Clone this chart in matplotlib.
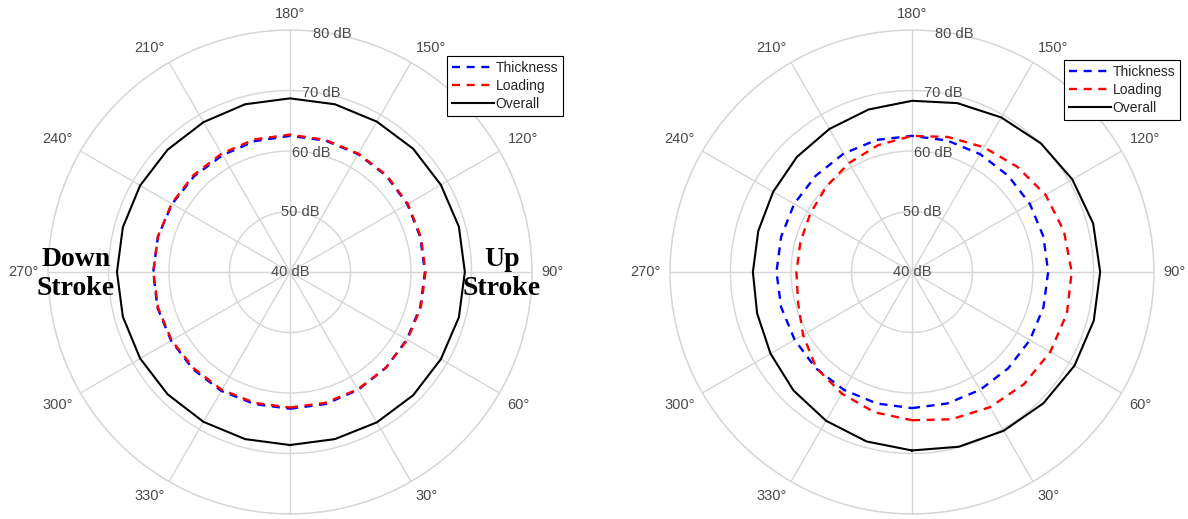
import numpy as np
import matplotlib
matplotlib.use("Agg")
import matplotlib.pyplot as plt

plt.rcParams["font.family"] = ["Liberation Sans", "DejaVu Sans"]

# azimuth samples (deg), 0 at the bottom, counter-clockwise
theta_deg = [0, 15, 30, 45, 60, 75, 90, 105, 120, 135, 150, 165,
             180, 195, 210, 225, 240, 255, 270, 285, 300, 315, 330, 345]

# left panel, SPL in dB
left_thickness = [62.6, 62.6, 62.5, 62.4, 62.3, 62.3, 62.3, 62.3, 62.4, 62.5, 62.5, 62.5,
                  62.5, 62.4, 62.3, 62.4, 62.5, 62.6, 62.6, 62.7, 62.7, 62.7, 62.7, 62.6]
left_loading = [62.4, 62.4, 62.4, 62.4, 62.4, 62.4, 62.4, 62.4, 62.5, 62.6, 62.6, 62.6,
                62.7, 62.7, 62.6, 62.6, 62.6, 62.6, 62.6, 62.6, 62.6, 62.5, 62.5, 62.4]
left_overall = [68.6, 68.6, 68.7, 68.8, 68.8, 68.9, 68.9, 68.9, 68.8, 68.8, 68.7, 68.7,
                68.7, 68.7, 68.6, 68.6, 68.6, 68.6, 68.6, 68.6, 68.6, 68.6, 68.6, 68.6]

# right panel, SPL in dB
right_thickness = [62.5, 62.5, 62.5, 62.5, 62.5, 62.5, 62.5, 62.5, 62.5, 62.5, 62.5, 62.5,
                   62.5, 62.6, 62.6, 62.5, 62.5, 62.4, 62.4, 62.4, 62.4, 62.5, 62.5, 62.5]
right_loading = [64.5, 65.2, 65.8, 66.2, 66.4, 66.5, 66.4, 66.0, 65.5, 64.6, 63.8, 63.1,
                 62.5, 61.7, 60.8, 60.0, 59.4, 59.1, 59.1, 59.5, 60.8, 62.4, 63.2, 64.0]
right_overall = [69.5, 69.9, 70.3, 70.7, 71.0, 71.1, 71.1, 71.0, 70.6, 70.1, 69.5, 68.9,
                 68.3, 67.8, 67.3, 66.9, 66.5, 66.3, 66.3, 66.5, 67.0, 67.7, 68.4, 69.0]

theta_ticks = [0, 30, 60, 90, 120, 150, 180, 210, 240, 270, 300, 330]
r_ticks = [40, 50, 60, 70, 80]
series_names = ["Thickness", "Loading", "Overall"]

GRID = "#d6d6d6"
LABEL = "#4a4a4a"
W, H = 1188, 519
R = 242  # plot radius in pixels

fig = plt.figure(figsize=(W / 100, H / 100), dpi=100)


def closed(vals):
    return np.append(vals, vals[0])


def panel(cx, cy, thick, load, over, leg_xy):
    ax = fig.add_axes([(cx - R) / W, (H - cy - R) / H, 2 * R / W, 2 * R / H],
                      projection="polar")
    ax.set_theta_zero_location("S")
    ax.set_theta_direction(1)
    ax.set_ylim(r_ticks[0], r_ticks[-1])
    ax.set_xticks(np.deg2rad(theta_ticks))
    ax.set_xticklabels([])
    ax.set_yticks(r_ticks)
    ax.set_yticklabels([])
    ax.tick_params(length=0)
    ax.grid(True, color=GRID, lw=1.0)
    ax.spines["polar"].set_color(GRID)
    ax.spines["polar"].set_linewidth(1.0)

    th = np.deg2rad(closed(theta_deg))
    ax.plot(th, closed(thick), color="#0000ff", lw=1.7, dashes=(3.4, 2.8),
            label=series_names[0], zorder=3)
    ax.plot(th, closed(load), color="#ff0000", lw=1.7, dashes=(3.4, 2.8),
            label=series_names[1], zorder=3)
    ax.plot(th, closed(over), color="black", lw=1.5, label=series_names[2], zorder=3)

    # angle labels just outside the rim (0 deg sits below the page edge)
    for a in theta_ticks[1:]:
        phi = np.deg2rad(a - 90)
        c, s = np.cos(phi), np.sin(phi)
        ha = "left" if c > 0.1 else ("right" if c < -0.1 else "center")
        va = "bottom" if s > 0.1 else ("top" if s < -0.1 else "center")
        ax.annotate(f"{a}°", xy=(np.deg2rad(a), r_ticks[-1]), xytext=(6.5 * c, 6.5 * s),
                    textcoords="offset points", ha=ha, va=va, fontsize=10.5,
                    color=LABEL, annotation_clip=False)

    # radius labels
    for r in r_ticks:
        ax.text(np.deg2rad(170), r, f"{r} dB", ha="center", va="center",
                fontsize=10.5, color=LABEL, clip_on=False, zorder=4)

    leg = ax.legend(loc="upper left", bbox_to_anchor=(leg_xy[0] / W, 1 - leg_xy[1] / H),
                    bbox_transform=fig.transFigure, borderaxespad=0, fontsize=10,
                    frameon=True, fancybox=False, framealpha=1, edgecolor="black",
                    handlelength=3.0, handletextpad=0.15, labelspacing=0.3,
                    borderpad=0.35)
    leg.get_frame().set_linewidth(0.8)
    for t in leg.get_texts():
        t.set_color("#262626")
    return ax


panel(290, 272, left_thickness, left_loading, left_overall, (447, 56))
panel(912, 272, right_thickness, right_loading, right_overall, (1064, 60))

# stroke annotations on the left panel
fig.text(76 / W, 1 - 274 / H, "Down\nStroke", ha="center", va="center",
         family="Liberation Serif", fontweight="bold", fontsize=20, linespacing=1.2)
fig.text(502 / W, 1 - 274 / H, "Up\nStroke", ha="center", va="center",
         family="Liberation Serif", fontweight="bold", fontsize=20, linespacing=1.2)

fig.savefig("out.png", dpi=100)
